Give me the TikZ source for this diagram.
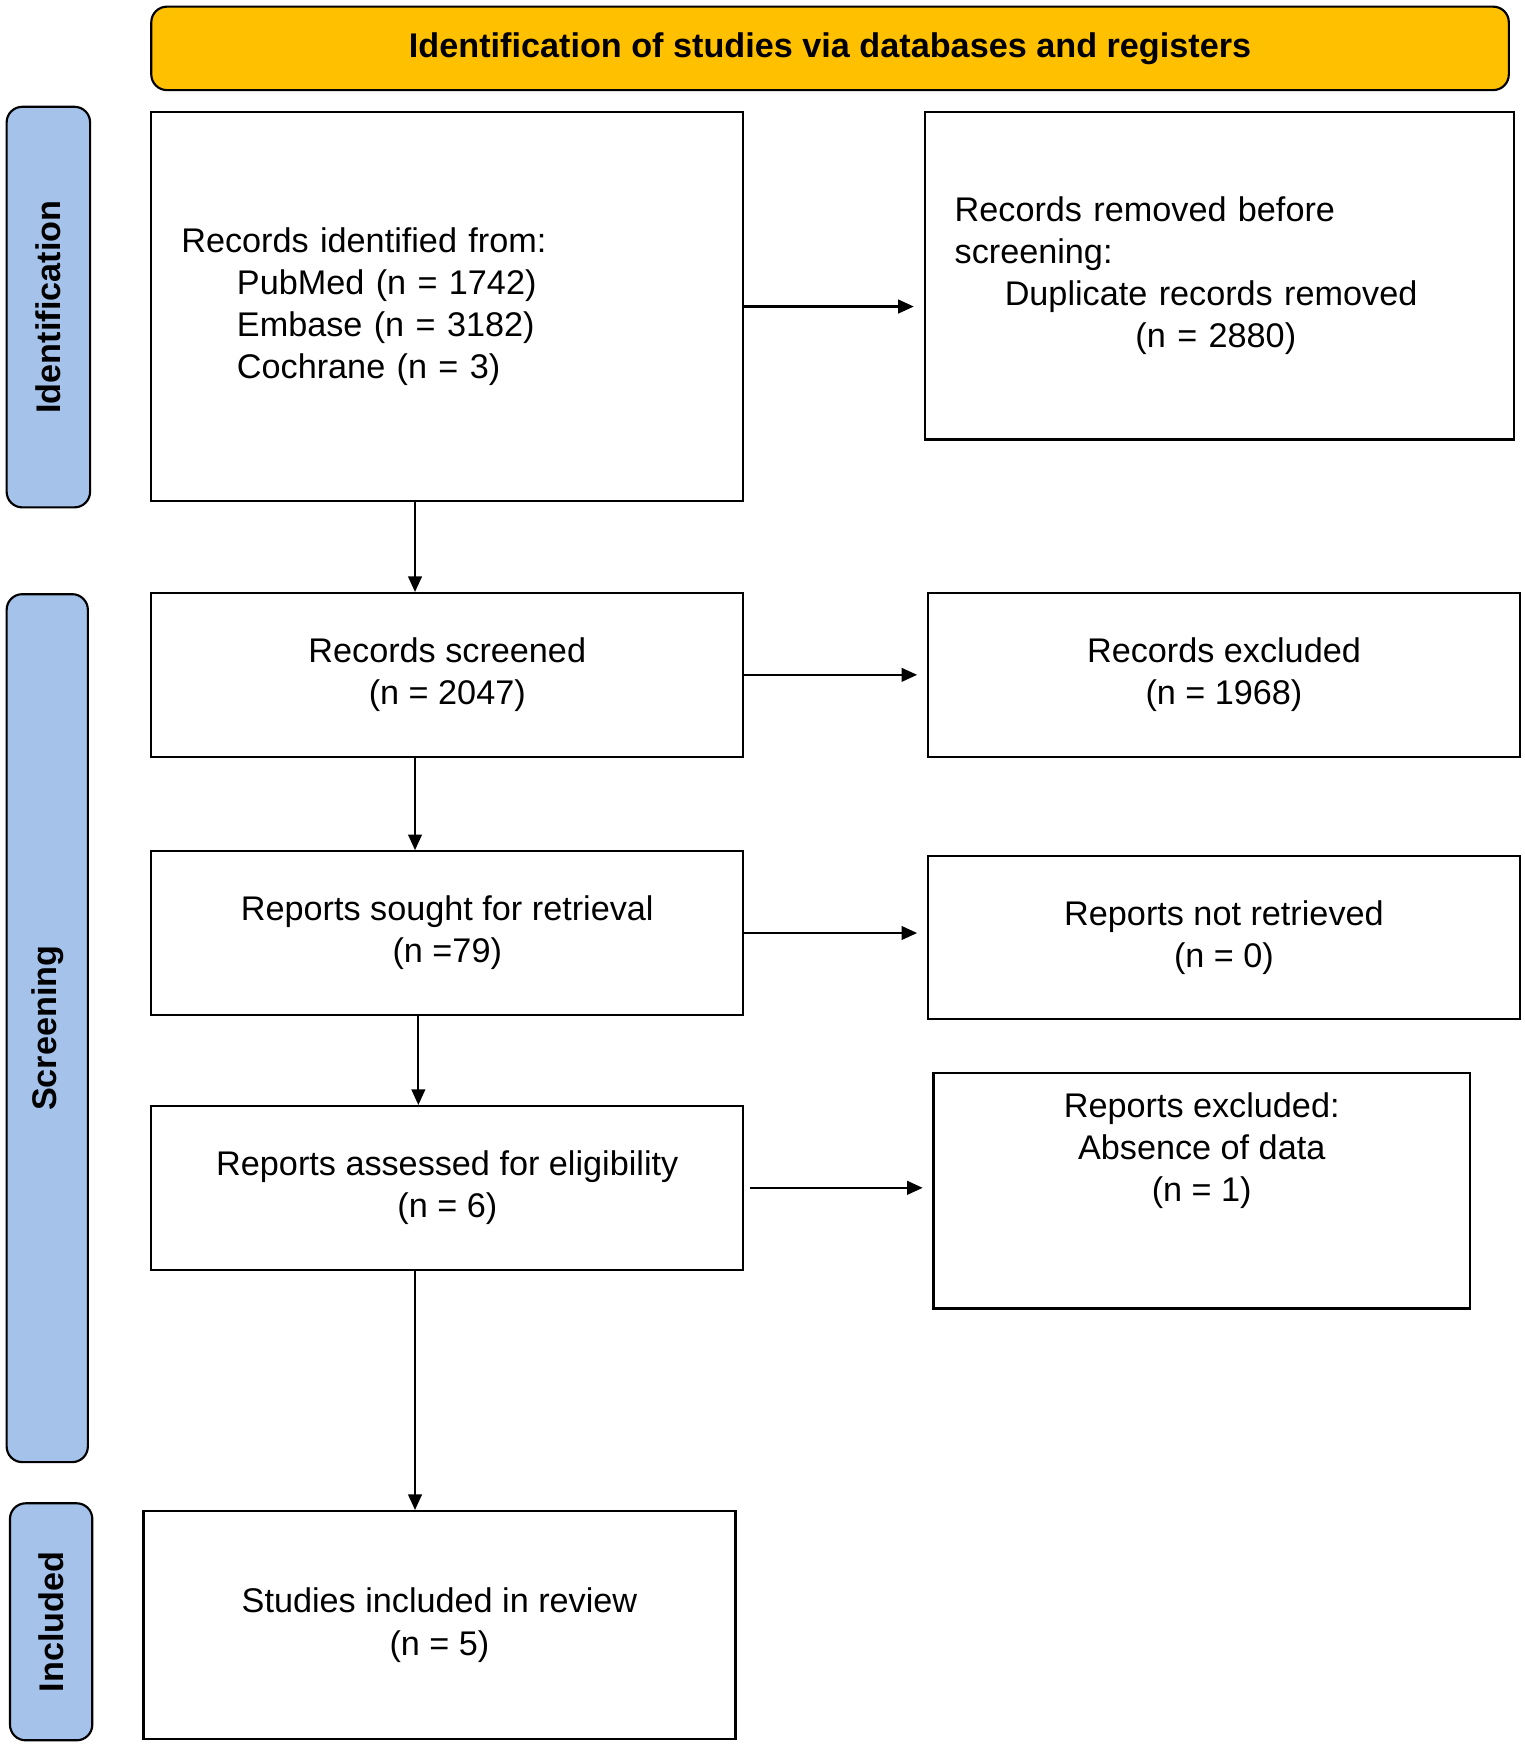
\documentclass[tikz,border=0pt]{standalone}
\usepackage{fontspec}
\setmainfont{Liberation Sans}
\usetikzlibrary{positioning, calc, arrows.meta}

\tikzset{
  box/.style={draw, line width=1.1pt, anchor=north west, inner sep=0pt,
    font=\fontsize{17.5}{21.5}\selectfont, align=center},
  phase/.style={draw, line width=1.1pt, rounded corners=8pt, fill=phaseblue,
    anchor=north west, inner sep=0pt},
  arr/.style={-{Triangle[length=8pt,width=7pt]}, line width=1.1pt},
}
\definecolor{phaseblue}{HTML}{A4C2EA}
\definecolor{headorange}{HTML}{FFC000}

\begin{document}
\begin{tikzpicture}[x=0.02cm, y=-0.02cm]
  \useasboundingbox (0,0) rectangle (1370,1570);

  % header and phase bars
  \node[phase, fill=headorange, minimum width=1220*0.02cm, minimum height=75*0.02cm,
    font=\bfseries\fontsize{17.5}{21}\selectfont] (head) at (135,5)
    {Identification of studies via databases and registers};
  \node[phase, minimum width=75*0.02cm, minimum height=360*0.02cm] (identbar) at (5,95) {};
  \node[rotate=90, font=\bfseries\fontsize{17.5}{21}\selectfont] at (identbar.center) {Identification};
  \node[phase, minimum width=73*0.02cm, minimum height=780*0.02cm] (screenbar) at (5,533) {};
  \node[rotate=90, font=\bfseries\fontsize{17.5}{21}\selectfont] at (screenbar.center) {Screening};
  \node[phase, minimum width=74*0.02cm, minimum height=213*0.02cm] (inclbar) at (8,1350) {};
  \node[rotate=90, font=\bfseries\fontsize{17.5}{21}\selectfont] at (inclbar.center) {Included};

  % boxes
  \node[box, minimum width=532*0.02cm, minimum height=349*0.02cm, align=left,
    text width=478*0.02cm] (identified) at (135,100)
    {Records identified from:\\
     \hspace{1.0cm}PubMed (n = 1742)\\
     \hspace{1.0cm}Embase (n = 3182)\\
     \hspace{1.0cm}Cochrane (n = 3)};
  \node[box, minimum width=530*0.02cm, minimum height=294*0.02cm, align=left,
    text width=476*0.02cm] (removed) at (830,100)
    {Records removed before\\screening:\\
     \hspace{0.9cm}Duplicate records removed\\
     \hspace{3.25cm}(n = 2880)\\[1.2cm]};
  \node[box, minimum width=532*0.02cm, minimum height=147*0.02cm] (screened) at (135,532)
    {Records screened\\(n = 2047)};
  \node[box, minimum width=532*0.02cm, minimum height=147*0.02cm] (excluded) at (833,532)
    {Records excluded\\(n = 1968)};
  \node[box, minimum width=532*0.02cm, minimum height=147*0.02cm] (sought) at (135,764)
    {Reports sought for retrieval\\(n =79)};
  \node[box, minimum width=532*0.02cm, minimum height=147*0.02cm] (notretrieved) at (833,768)
    {Reports not retrieved\\(n = 0)};
  \node[box, minimum width=532*0.02cm, minimum height=147*0.02cm] (assessed) at (135,993)
    {Reports assessed for eligibility\\(n = 6)};
  \node[box, minimum width=482*0.02cm, minimum height=212*0.02cm] (reportsexcl) at (838,963)
    {Reports excluded:\\Absence of data\\(n = 1)\\[0.8cm]};
  \node[box, minimum width=532*0.02cm, minimum height=205*0.02cm] (included) at (128,1357)
    {Studies included in review\\(n = 5)};

  % connectors
  \draw[arr] ([xshift=-0.58cm]identified.south) -- ([xshift=-0.58cm]identified.south |- screened.north);
  \draw[arr] ([xshift=-0.58cm]screened.south) -- ([xshift=-0.58cm]screened.south |- sought.north);
  \draw[arr] ([xshift=-0.52cm]sought.south) -- ([xshift=-0.52cm]sought.south |- assessed.north);
  \draw[arr] ([xshift=-0.58cm]assessed.south) -- ([xshift=-0.58cm]assessed.south |- included.north);
  \draw[arr, shorten >=5pt] (identified.east) -- (identified.east -| removed.west);
  \draw[arr, shorten >=5pt] (screened.east) -- (screened.east -| excluded.west);
  \draw[arr, shorten >=5pt] (sought.east) -- (sought.east -| notretrieved.west);
  \draw[arr, shorten >=5pt] ([xshift=3pt]assessed.east) -- (assessed.east -| reportsexcl.west);
\end{tikzpicture}
\end{document}
